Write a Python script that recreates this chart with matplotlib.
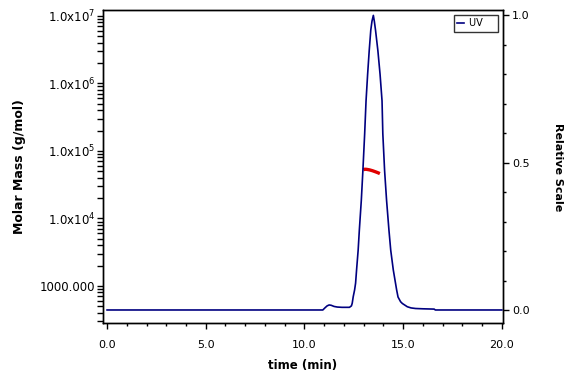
import matplotlib
matplotlib.use("Agg")
import matplotlib.pyplot as plt
from matplotlib.ticker import FixedLocator, FixedFormatter, MultipleLocator, LogLocator, NullFormatter

# UV trace (relative scale)
time_uv = [0.0, 10.93, 11.05, 11.15, 11.25, 11.35, 11.5, 11.66, 11.9, 12.28,
           12.38, 12.42, 12.47, 12.54, 12.59, 12.64, 12.72, 12.78, 12.88, 12.96,
           13.05, 13.12, 13.2, 13.28, 13.36, 13.42, 13.49, 13.54, 13.6, 13.72,
           13.83, 13.93, 13.97, 14.06, 14.16, 14.28, 14.37, 14.5, 14.59, 14.67,
           14.74, 14.87, 14.96, 15.21, 15.4, 15.63, 16.0, 16.57, 16.63, 20.0]
uv = [0.0, 0.0, 0.008, 0.014, 0.017, 0.016, 0.012, 0.010, 0.009, 0.009,
      0.014, 0.023, 0.045, 0.068, 0.091, 0.136, 0.203, 0.271, 0.372, 0.473,
      0.598, 0.71, 0.80, 0.88, 0.95, 0.98, 1.0, 0.98, 0.95, 0.88,
      0.80, 0.71, 0.598, 0.473, 0.372, 0.271, 0.203, 0.136, 0.10, 0.068,
      0.044, 0.028, 0.022, 0.011, 0.007, 0.005, 0.004, 0.003, 0.0, 0.0]

# molar mass across the peak
time_mm = [12.98, 13.05, 13.15, 13.3, 13.45, 13.6, 13.72, 13.82]
molar_mass = [52500, 53500, 53300, 52300, 50800, 49000, 47500, 46100]

mm_ticks = [1e3, 1e4, 1e5, 1e6, 1e7]
mm_labels = ["1000.000", r"1.0x10$^{4}$", r"1.0x10$^{5}$", r"1.0x10$^{6}$", r"1.0x10$^{7}$"]

plt.rcParams['font.family'] = ['DejaVu Sans']
plt.rcParams['mathtext.default'] = 'regular'

fig = plt.figure(figsize=(5.76, 3.84), dpi=100)
ax = fig.add_axes([0.179, 0.159, 0.694, 0.814])
ax2 = ax.twinx()

ax.plot(time_mm, molar_mass, color='#e00000', lw=2.4, solid_capstyle='butt')
ax.set_yscale('log')
ax.set_ylim(10**2.452, 10**7.081)
ax.set_xlim(-0.2, 20.05)
ax.yaxis.set_major_locator(FixedLocator(mm_ticks))
ax.yaxis.set_major_formatter(FixedFormatter(mm_labels))
ax.yaxis.set_minor_locator(LogLocator(base=10, subs=range(2, 10), numticks=20))
ax.yaxis.set_minor_formatter(NullFormatter())
ax.xaxis.set_major_locator(MultipleLocator(5))
ax.xaxis.set_minor_locator(MultipleLocator(1))
ax.xaxis.set_major_formatter(plt.FuncFormatter(lambda v, p: f"{v:.1f}"))
ax.tick_params(axis='y', which='both', length=4.5, width=1, labelsize=8.5, pad=1)
ax.tick_params(axis='x', which='major', length=4, width=1, labelsize=8, pad=8)
ax.tick_params(axis='x', which='minor', length=2.5, width=1)

ax2.plot(time_uv, uv, color='#000080', lw=1.2, label='UV')
ax2.set_ylim(-0.044, 1.017)
ax2.yaxis.set_major_locator(FixedLocator([0.0, 0.5, 1.0]))
ax2.yaxis.set_minor_locator(MultipleLocator(0.1))
ax2.yaxis.set_major_formatter(plt.FuncFormatter(lambda v, p: f"{v:.1f}"))
ax2.tick_params(axis='y', which='major', length=4.5, width=1, labelsize=8, pad=2)
ax2.tick_params(axis='y', which='minor', length=2.5, width=1)

for a in (ax, ax2):
    for s in a.spines.values():
        s.set_linewidth(1)

ax.set_xlabel("time (min)", fontsize=8.5, fontweight='bold', labelpad=7)
ax.set_ylabel("Molar Mass (g/mol)", fontsize=9, fontweight='bold', labelpad=10)
ax2.set_ylabel("Relative Scale", fontsize=8, fontweight='bold', rotation=-90, labelpad=24)

leg = ax2.legend(loc='upper right', fontsize=7, frameon=True, fancybox=False,
                 handlelength=0.7, handletextpad=0.5, borderpad=0.35,
                 borderaxespad=0.45)
leg.get_texts()[0].set_text('UV    ')
leg.get_frame().set_edgecolor('black')
leg.get_frame().set_linewidth(1)

fig.savefig('out.png', dpi=100)
